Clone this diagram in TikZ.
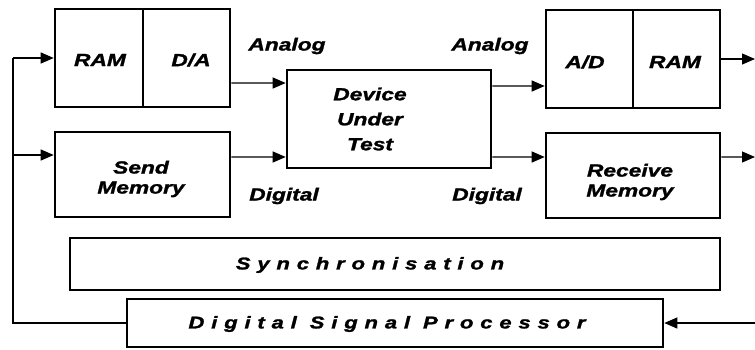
\documentclass[tikz,border=0pt]{standalone}
\usepackage{fontspec}
\setmainfont{Liberation Sans}
\newfontfamily\blockfont{Liberation Sans}[FakeStretch=1.3,FakeBold=1.5]
\newfontfamily\spacedfont{Liberation Sans}[FakeStretch=1.3,FakeBold=1.5,LetterSpace=40]
\usetikzlibrary{arrows.meta}

\tikzset{
  blk/.style={draw, line width=2.6bp, rectangle, inner sep=0pt, align=center},
  txt/.style={font=\blockfont\bfseries\itshape\fontsize{17.5bp}{20bp}\selectfont, align=center, inner sep=0pt},
  wide/.style={font=\spacedfont\bfseries\itshape\fontsize{17bp}{20bp}\selectfont, inner sep=0pt},
  wire/.style={line width=1.1bp},
  arr/.style={wire, -{Triangle[length=13bp,width=11bp]}}
}

\begin{document}
\begin{tikzpicture}[x=1bp, y=-1bp]
\useasboundingbox (0,0) rectangle (755,349);

% sender side
\node[blk, minimum width=88bp, minimum height=98bp] (ram1) at (99,58) {};
\node[blk, minimum width=87bp, minimum height=98bp] (da) at (186.5,58) {};
\node[txt] (ram1t) at (100,60) {RAM};
\node[txt] (dat) at (191,60) {D/A};
\node[blk, minimum width=175bp, minimum height=85bp] (send) at (142.5,174.5) {};
\node[txt] (sendt) at (141,179) {Send\\Memory};

% device under test
\node[blk, minimum width=204bp, minimum height=98bp] (dut) at (389,119) {};
\node[txt, font=\blockfont\bfseries\itshape\fontsize{17.5bp}{25bp}\selectfont] (dutt) at (370,119) {Device\\Under\\Test};

% receiver side
\node[blk, minimum width=87bp, minimum height=98bp] (ad) at (589.5,59) {};
\node[blk, minimum width=87bp, minimum height=98bp] (ram2) at (676.5,59) {};
\node[txt] (adt) at (585,62) {A/D};
\node[txt] (ram2t) at (675,62) {RAM};
\node[blk, minimum width=174bp, minimum height=85bp] (recv) at (633,175.5) {};
\node[txt] (recvt) at (630,182) {Receive\\Memory};

% control blocks
\node[blk, minimum width=650bp, minimum height=52bp] (sync) at (395,264) {};
\node[wide] (synct) at (370,265) {Synchronisation};
\node[blk, minimum width=536bp, minimum height=48bp] (dsp) at (395,323) {};
\node[wide] (dspt) at (387,324) {Digital Signal Processor};

% signal labels
\node[txt] (la1) at (287,46) {Analog};
\node[txt] (la2) at (490,46) {Analog};
\node[txt] (ld1) at (284,196) {Digital};
\node[txt] (ld2) at (487,196) {Digital};

% feedback bus on the left
\coordinate (bustop) at (13,58);
\coordinate (busmid) at (13,155);
\draw[wire] (dsp.west) -| (bustop);
\draw[arr] (bustop) -- (ram1.west);
\draw[arr] (busmid) -- (send.west |- busmid);

% into and out of the device
\draw[arr] ([yshift=-25bp]da.east) -- ([yshift=36bp]dut.west);
\draw[arr] ([yshift=17.5bp]send.east) -- ([yshift=-38bp]dut.west);
\draw[arr] ([yshift=33bp]dut.east) -- ([yshift=-27bp]ad.west);
\draw[arr] ([yshift=-38bp]dut.east) -- ([yshift=18.5bp]recv.west);

% outputs on the right and return into the processor
\coordinate (outram) at (755,59);
\coordinate (outrecv) at (755,157);
\coordinate (indsp) at (755,323);
\draw[arr] (ram2.east) -- (outram);
\draw[arr] ([yshift=18.5bp]recv.east) -- (outrecv);
\draw[arr] (indsp) -- (dsp.east);
\end{tikzpicture}
\end{document}
